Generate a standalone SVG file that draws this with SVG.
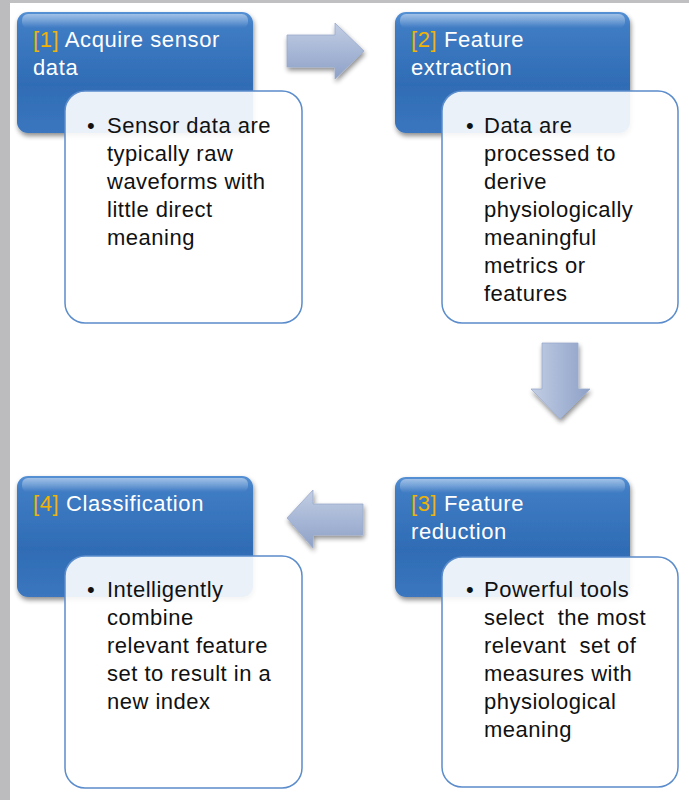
<svg xmlns="http://www.w3.org/2000/svg" width="689" height="800" viewBox="0 0 689 800">
<defs>
<linearGradient id="blue" x1="0" y1="0" x2="0" y2="1">
<stop offset="0" stop-color="#5590d4"/>
<stop offset="0.12" stop-color="#3f7cc4"/>
<stop offset="0.6" stop-color="#2f6cb5"/>
<stop offset="1" stop-color="#3a76be"/>
</linearGradient>
<linearGradient id="hl" x1="0" y1="0" x2="0" y2="1">
<stop offset="0" stop-color="#ffffff" stop-opacity="0.45"/>
<stop offset="1" stop-color="#ffffff" stop-opacity="0"/>
</linearGradient>
<linearGradient id="arrowH" x1="0" y1="0" x2="0" y2="1">
<stop offset="0" stop-color="#c3cee3"/>
<stop offset="0.5" stop-color="#a7b7d6"/>
<stop offset="1" stop-color="#8ea1c7"/>
</linearGradient>
<linearGradient id="arrowV" x1="0" y1="0" x2="1" y2="0">
<stop offset="0" stop-color="#c3cee3"/>
<stop offset="0.5" stop-color="#a7b7d6"/>
<stop offset="1" stop-color="#8ea1c7"/>
</linearGradient>
<filter id="sh" x="-10%" y="-10%" width="130%" height="130%">
<feGaussianBlur in="SourceAlpha" stdDeviation="2.5"/>
<feOffset dx="1" dy="3" result="b"/>
<feComponentTransfer><feFuncA type="linear" slope="0.45"/></feComponentTransfer>
<feMerge><feMergeNode/><feMergeNode in="SourceGraphic"/></feMerge>
</filter>
</defs>
<style>
.bluebox{fill:url(#blue);filter:url(#sh);}
.hl{fill:url(#hl);}
.card{fill:#ffffff;fill-opacity:0.9;stroke:#5b8ccb;stroke-width:1.5;}
.title{font-family:"Liberation Sans",Arial,sans-serif;font-size:22px;letter-spacing:0.6px;fill:#ffffff;}
.num{fill:#f2b200;}
.body{font-family:"Liberation Sans",Arial,sans-serif;font-size:22px;letter-spacing:0.5px;fill:#111111;white-space:pre;}
.arrow{filter:url(#sh);stroke:#9aabcd;stroke-width:0.8;}
</style>
<rect x="0" y="0" width="689" height="800" fill="#ffffff"/>
<rect x="0" y="0" width="689" height="3" fill="#c0c0c2"/>
<rect x="0" y="0" width="10" height="800" fill="#bcbcbe"/>

<g id="connectors">
<path class="arrow" fill="url(#arrowH)" d="M287,35 L335,35 L335,23 L364,51 L335,79 L335,67 L287,67 Z"/>
<path class="arrow" fill="url(#arrowV)" d="M542,343 L578,343 L578,389 L590,389 L560,419 L531,389 L542,389 Z"/>
<path class="arrow" fill="url(#arrowH)" d="M363,504 L313,504 L313,490 L287,518 L313,548 L313,535 L363,535 Z"/>
</g>

<g id="node1">
<rect class="bluebox" x="17" y="12" width="236" height="121" rx="11"/>
<rect class="hl" x="22" y="14" width="226" height="14" rx="6"/>
<text class="title" x="33" y="47"><tspan class="num">[1]</tspan> Acquire sensor</text>
<text class="title" x="33" y="75">data</text>
<rect class="card" x="65" y="91" width="237" height="232" rx="20"/>
<text class="body"><tspan x="87" y="133">•</tspan><tspan x="107" y="133">Sensor data are</tspan><tspan x="107" y="161">typically raw</tspan><tspan x="107" y="189">waveforms with</tspan><tspan x="107" y="217">little direct</tspan><tspan x="107" y="245">meaning</tspan></text>
</g>

<g id="node2">
<rect class="bluebox" x="395" y="12" width="235" height="121" rx="11"/>
<rect class="hl" x="400" y="14" width="225" height="14" rx="6"/>
<text class="title" x="411" y="47"><tspan class="num">[2]</tspan> Feature</text>
<text class="title" x="411" y="75">extraction</text>
<rect class="card" x="442" y="91" width="236" height="232" rx="20"/>
<text class="body"><tspan x="466" y="133">•</tspan><tspan x="484" y="133">Data are</tspan><tspan x="484" y="161">processed to</tspan><tspan x="484" y="189">derive</tspan><tspan x="484" y="217">physiologically</tspan><tspan x="484" y="245">meaningful</tspan><tspan x="484" y="273">metrics or</tspan><tspan x="484" y="301">features</tspan></text>
</g>

<g id="node3">
<rect class="bluebox" x="395" y="477" width="235" height="120" rx="11"/>
<rect class="hl" x="400" y="479" width="225" height="14" rx="6"/>
<text class="title" x="411" y="511"><tspan class="num">[3]</tspan> Feature</text>
<text class="title" x="411" y="539">reduction</text>
<rect class="card" x="442" y="557" width="236" height="230" rx="20"/>
<text class="body"><tspan x="466" y="597">•</tspan><tspan x="484" y="597">Powerful tools</tspan><tspan x="484" y="625">select  the most</tspan><tspan x="484" y="653">relevant  set of</tspan><tspan x="484" y="681">measures with</tspan><tspan x="484" y="709">physiological</tspan><tspan x="484" y="737">meaning</tspan></text>
</g>

<g id="node4">
<rect class="bluebox" x="17" y="476" width="236" height="121" rx="11"/>
<rect class="hl" x="22" y="478" width="226" height="14" rx="6"/>
<text class="title" x="33" y="511"><tspan class="num">[4]</tspan> Classification</text>
<rect class="card" x="65" y="556" width="237" height="232" rx="20"/>
<text class="body"><tspan x="87" y="597">•</tspan><tspan x="107" y="597">Intelligently</tspan><tspan x="107" y="625">combine</tspan><tspan x="107" y="653">relevant feature</tspan><tspan x="107" y="681">set to result in a</tspan><tspan x="107" y="709">new index</tspan></text>
</g>
</svg>
